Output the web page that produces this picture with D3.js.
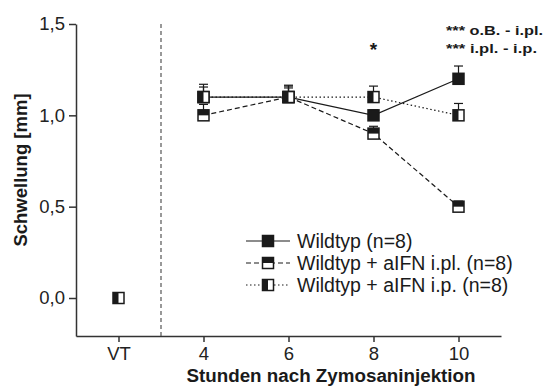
<!DOCTYPE html>
<html><head><meta charset="utf-8">
<script src="https://cdn.jsdelivr.net/npm/d3@7"></script>
<style>body{margin:0;background:#fff;}svg{display:block;font-family:Arial,"Liberation Sans",sans-serif;}</style>
</head><body><svg id="c" width="544" height="387"></svg>
<script>
const hours = [2, 4, 6, 8, 10];
const tickLabels = ["VT", "4", "6", "8", "10"];
const yTicks = [0, 0.5, 1.0, 1.5];
const seriesNames = ["Wildtyp (n=8)", "Wildtyp + aIFN i.pl. (n=8)", "Wildtyp + aIFN i.p. (n=8)"];
const wildtyp = [0, 1.10, 1.10, 1.00, 1.20];
const wildtypErr = [0.02, 0.07, 0.06, 0.03, 0.07];
const ipl = [0, 1.00, 1.10, 0.90, 0.50];
const iplErr = [0.02, 0.06, 0.05, 0.04, 0.03];
const ip = [0, 1.10, 1.10, 1.10, 1.00];
const ipErr = [0.02, 0.055, 0.065, 0.06, 0.065];
const sigStar = {hour: 8, text: "*"};
const sigNotes = ["*** o.B. - i.pl.", "*** i.pl. - i.p."];

const svg = d3.select("#c");
const x = d3.scaleLinear().domain([1, 11]).range([76, 501]);
const y = d3.scaleLinear().domain([-0.208, 1.5]).range([336, 24]);
const ink = "#1a1a1a";

// axes
const yAxis = svg.append("g").attr("transform", "translate(76,0)")
  .call(d3.axisLeft(y).tickValues(yTicks).tickSize(7).tickSizeOuter(0).tickPadding(4)
    .tickFormat(d => d3.format(".1f")(d).replace(".", ",")));
const xAxis = svg.append("g").attr("transform", "translate(0,336)")
  .call(d3.axisBottom(x).tickValues(hours).tickSize(6).tickSizeOuter(0).tickPadding(5)
    .tickFormat((d, i) => tickLabels[i]));
[yAxis, xAxis].forEach(a => {
  a.selectAll("path,line").attr("stroke", "#333").attr("stroke-width", 1.5);
  a.selectAll("text").attr("fill", "#222").style("font-size", "18.5px");
});

// separator
svg.append("line").attr("x1", x(3)).attr("x2", x(3)).attr("y1", y(1.5)).attr("y2", 336)
  .attr("stroke", "#555").attr("stroke-width", 1.2).attr("stroke-dasharray", "4,3");

// axis titles
svg.append("text").attr("transform", "translate(27,170) rotate(-90)")
  .attr("text-anchor", "middle").attr("font-weight", "bold").style("font-size", "18.5px").attr("fill", ink)
  .text("Schwellung [mm]");
svg.append("text").attr("x", 331).attr("y", 382).attr("text-anchor", "middle")
  .attr("font-weight", "bold").style("font-size", "18.8px").attr("fill", ink)
  .text("Stunden nach Zymosaninjektion");

const series = [
  {vals: wildtyp, err: wildtypErr, dash: null, fill: "full"},
  {vals: ipl, err: iplErr, dash: "5,3", fill: "top"},
  {vals: ip, err: ipErr, dash: "1.5,2.5", fill: "left"}
];
const S = 11;
function marker(g, cx, cy, type) {
  const m = g.append("g").attr("transform", `translate(${cx},${cy})`);
  m.append("rect").attr("x", -S/2).attr("y", -S/2).attr("width", S).attr("height", S)
    .attr("fill", type === "full" ? ink : "#fff").attr("stroke", ink).attr("stroke-width", 1.5);
  if (type === "top") m.append("rect").attr("x", -S/2).attr("y", -S/2).attr("width", S).attr("height", S/2).attr("fill", ink);
  if (type === "left") m.append("rect").attr("x", -S/2).attr("y", -S/2).attr("width", S/2).attr("height", S).attr("fill", ink);
}

const line = d3.line().x((d, i) => x(hours[i + 1])).y(d => y(d));
const plot = svg.append("g");
series.forEach(s => {
  plot.append("path").datum(s.vals.slice(1)).attr("d", line).attr("fill", "none")
    .attr("stroke", ink).attr("stroke-width", 1.2).attr("stroke-dasharray", s.dash);
});
series.forEach(s => {
  s.vals.forEach((v, i) => {
    if (i === 0) return;
    const cx = x(hours[i]);
    plot.append("line").attr("x1", cx).attr("x2", cx).attr("y1", y(v)).attr("y2", y(v + s.err[i]))
      .attr("stroke", ink).attr("stroke-width", 1.2);
    plot.append("line").attr("x1", cx - 4.5).attr("x2", cx + 4.5).attr("y1", y(v + s.err[i])).attr("y2", y(v + s.err[i]))
      .attr("stroke", ink).attr("stroke-width", 1.2);
  });
});
[0, 1, 2].forEach(k => {
  const s = series[k];
  s.vals.forEach((v, i) => {
    if (i === 0 && k !== 2) return;
    marker(plot, x(hours[i]), y(v), s.fill);
  });
});

// significance
svg.append("text").attr("x", x(sigStar.hour)).attr("y", 56).attr("text-anchor", "middle")
  .attr("font-weight", "bold").style("font-size", "19px").attr("fill", ink).text(sigStar.text);
const noteWidths = [97, 91];
sigNotes.forEach((t, i) => {
  svg.append("text").attr("x", 446).attr("y", 35 + i * 18).attr("font-weight", "bold")
    .style("font-size", "13px").attr("fill", ink)
    .attr("textLength", noteWidths[i]).attr("lengthAdjust", "spacingAndGlyphs").text(t);
});

// legend
const lg = svg.append("g");
const rows = [241, 263, 285];
series.forEach((s, i) => {
  lg.append("line").attr("x1", 246).attr("x2", 290).attr("y1", rows[i]).attr("y2", rows[i])
    .attr("stroke", ink).attr("stroke-width", 1.2).attr("stroke-dasharray", s.dash);
  marker(lg, 268, rows[i], s.fill);
  lg.append("text").attr("x", 297).attr("y", rows[i] + 7).style("font-size", "19.5px").attr("fill", ink)
    .text(seriesNames[i]);
});
</script></body></html>
